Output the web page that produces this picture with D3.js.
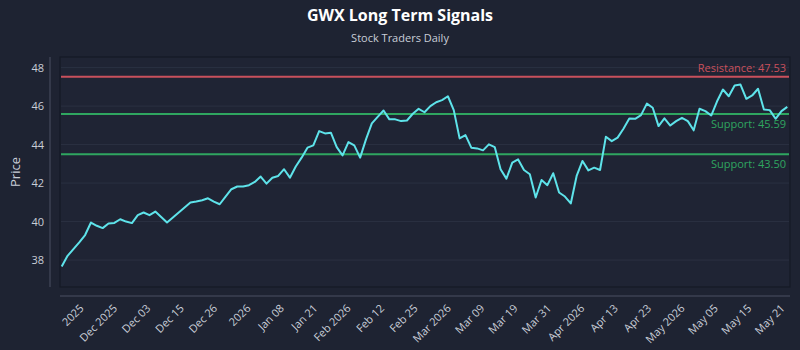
<!DOCTYPE html>
<html>
<head>
<meta charset="utf-8">
<script src="https://cdn.jsdelivr.net/npm/d3@7"></script>
<style>
  html, body { margin: 0; padding: 0; background: #1e2332; }
  svg { display: block; }
  text { font-family: "Open Sans", "Noto Sans", sans-serif; }
</style>
</head>
<body>
<div id="chart"></div>
<script>
// ---- Data ----
const title = "GWX Long Term Signals";
const subtitle = "Stock Traders Daily";

const prices = [
  37.67, 38.22, 38.57, 38.92, 39.30, 39.95, 39.78, 39.66, 39.90, 39.93,
  40.12, 40.00, 39.92, 40.33, 40.47, 40.33, 40.52, 40.24, 39.95, 40.21,
  40.47, 40.73, 40.99, 41.04, 41.11, 41.21, 41.04, 40.90, 41.30, 41.68,
  41.82, 41.82, 41.89, 42.06, 42.34, 41.97, 42.28, 42.37, 42.72, 42.28,
  42.86, 43.32, 43.84, 43.96, 44.70, 44.58, 44.62, 43.87, 43.44, 44.13,
  43.96, 43.32, 44.27, 45.10, 45.44, 45.77, 45.31, 45.31, 45.22, 45.25,
  45.60, 45.86, 45.68, 46.00, 46.20, 46.31, 46.51, 45.79, 44.32, 44.49,
  43.84, 43.80, 43.70, 44.01, 43.87, 42.72, 42.23, 43.06, 43.23, 42.68,
  42.46, 41.25, 42.16, 41.89, 42.51, 41.51, 41.30, 40.94, 42.37, 43.15,
  42.66, 42.80, 42.68, 44.41, 44.18, 44.36, 44.82, 45.36, 45.34, 45.53,
  46.13, 45.91, 44.96, 45.36, 44.99, 45.22, 45.39, 45.22, 44.74, 45.86,
  45.74, 45.51, 46.25, 46.86, 46.51, 47.07, 47.12, 46.38, 46.55, 46.90,
  45.82, 45.79, 45.34, 45.74, 45.96
];

const tickLabels = [
  "2025", "Dec 2025", "Dec 03", "Dec 15", "Dec 26", "2026", "Jan 08", "Jan 21",
  "Feb 2026", "Feb 12", "Feb 25", "Mar 2026", "Mar 09", "Mar 19", "Mar 31",
  "Apr 2026", "Apr 13", "Apr 23", "May 2026", "May 05", "May 15", "May 21"
];

const yTicks = [38, 40, 42, 44, 46, 48];

const levelNames = ["Resistance", "Support", "Support"];
const levelValues = [47.53, 45.59, 43.50];
const levelKinds = ["res", "sup", "sup"];

// ---- Layout ----
const W = 800, H = 350;
const plot = { left: 60, right: 790, top: 57, bottom: 287 };
const colors = {
  bg: "#1e2332",
  plotBg: "#1f2434",
  border: "#151a26",
  grid: "#2a3142",
  axis: "#4a5162",
  text: "#c9ced8",
  line: "#5ee3ea",
  res: "#c9505c",
  sup: "#2fa660"
};

const svg = d3.select("#chart").append("svg")
  .attr("width", W).attr("height", H);

svg.append("rect").attr("width", W).attr("height", H).attr("fill", colors.bg);

const x = d3.scaleLinear()
  .domain([0, prices.length - 1])
  .range([61.7, 787.3]);

const y = d3.scaleLinear()
  .domain([36.6, 48.55])
  .range([plot.bottom, plot.top]);

// plot background + border
svg.append("rect")
  .attr("x", plot.left).attr("y", plot.top)
  .attr("width", plot.right - plot.left).attr("height", plot.bottom - plot.top)
  .attr("fill", colors.plotBg).attr("stroke", colors.border).attr("stroke-width", 1.2);

// gridlines
svg.append("g").selectAll("line").data(yTicks).join("line")
  .attr("x1", plot.left + 1).attr("x2", plot.right - 1)
  .attr("y1", d => y(d)).attr("y2", d => y(d))
  .attr("stroke", colors.grid).attr("stroke-width", 1);

// y axis (offset)
const yAxis = d3.axisLeft(y).tickValues(yTicks).tickSize(0).tickPadding(6);
const gy = svg.append("g").attr("transform", `translate(${plot.left - 10},0)`).call(yAxis);
gy.select(".domain").attr("stroke", colors.axis).attr("d", `M0,${plot.top}V${plot.bottom}`);
gy.selectAll("text").attr("fill", colors.text).style("font-size", "11px");

// x axis (offset)
const tickPos = d3.scaleLinear().domain([0, tickLabels.length - 1]).range([3.3, 123.1]);
const xTickVals = tickLabels.map((_, i) => tickPos(i));
const xAxis = d3.axisBottom(x).tickValues(xTickVals)
  .tickFormat((d, i) => tickLabels[i]).tickSize(0).tickPadding(0);
const gx = svg.append("g").attr("transform", `translate(0,${plot.bottom + 9})`).call(xAxis);
gx.select(".domain").attr("stroke", colors.axis).attr("d", `M${plot.left},0H${plot.right}`);
gx.selectAll("text")
  .attr("fill", colors.text).style("font-size", "11px")
  .attr("text-anchor", "end")
  .attr("dy", null).attr("y", 0)
  .attr("transform", "translate(3,13) rotate(-45)");

// y label
svg.append("text")
  .attr("transform", `translate(20,${(plot.top + plot.bottom) / 2}) rotate(-90)`)
  .attr("text-anchor", "middle")
  .attr("fill", colors.text).style("font-size", "13px")
  .text("Price");

// level lines
const levels = levelValues.map((v, i) => ({ v, name: levelNames[i], kind: levelKinds[i] }));
svg.append("g").selectAll("line").data(levels).join("line")
  .attr("x1", plot.left + 1).attr("x2", plot.right - 1)
  .attr("y1", d => y(d.v)).attr("y2", d => y(d.v))
  .attr("stroke", d => colors[d.kind]).attr("stroke-width", 2);

// price line
const line = d3.line().x((d, i) => x(i)).y(d => y(d));
svg.append("path").datum(prices)
  .attr("d", line).attr("fill", "none")
  .attr("stroke", colors.line).attr("stroke-width", 2)
  .attr("stroke-linejoin", "round");

// level labels
svg.append("g").selectAll("text").data(levels).join("text")
  .attr("x", plot.right - 4)
  .attr("y", d => d.kind === "res" ? y(d.v) - 5 : y(d.v) + 14)
  .attr("text-anchor", "end")
  .attr("fill", d => colors[d.kind]).style("font-size", "11px")
  .text(d => `${d.name}: ${d.v.toFixed(2)}`);

// titles
svg.append("text").attr("x", W / 2).attr("y", 21)
  .attr("text-anchor", "middle").attr("fill", "#ffffff")
  .style("font-size", "16px").style("font-weight", "bold").text(title);
svg.append("text").attr("x", W / 2).attr("y", 42)
  .attr("text-anchor", "middle").attr("fill", colors.text)
  .style("font-size", "11px").text(subtitle);
</script>
</body>
</html>
